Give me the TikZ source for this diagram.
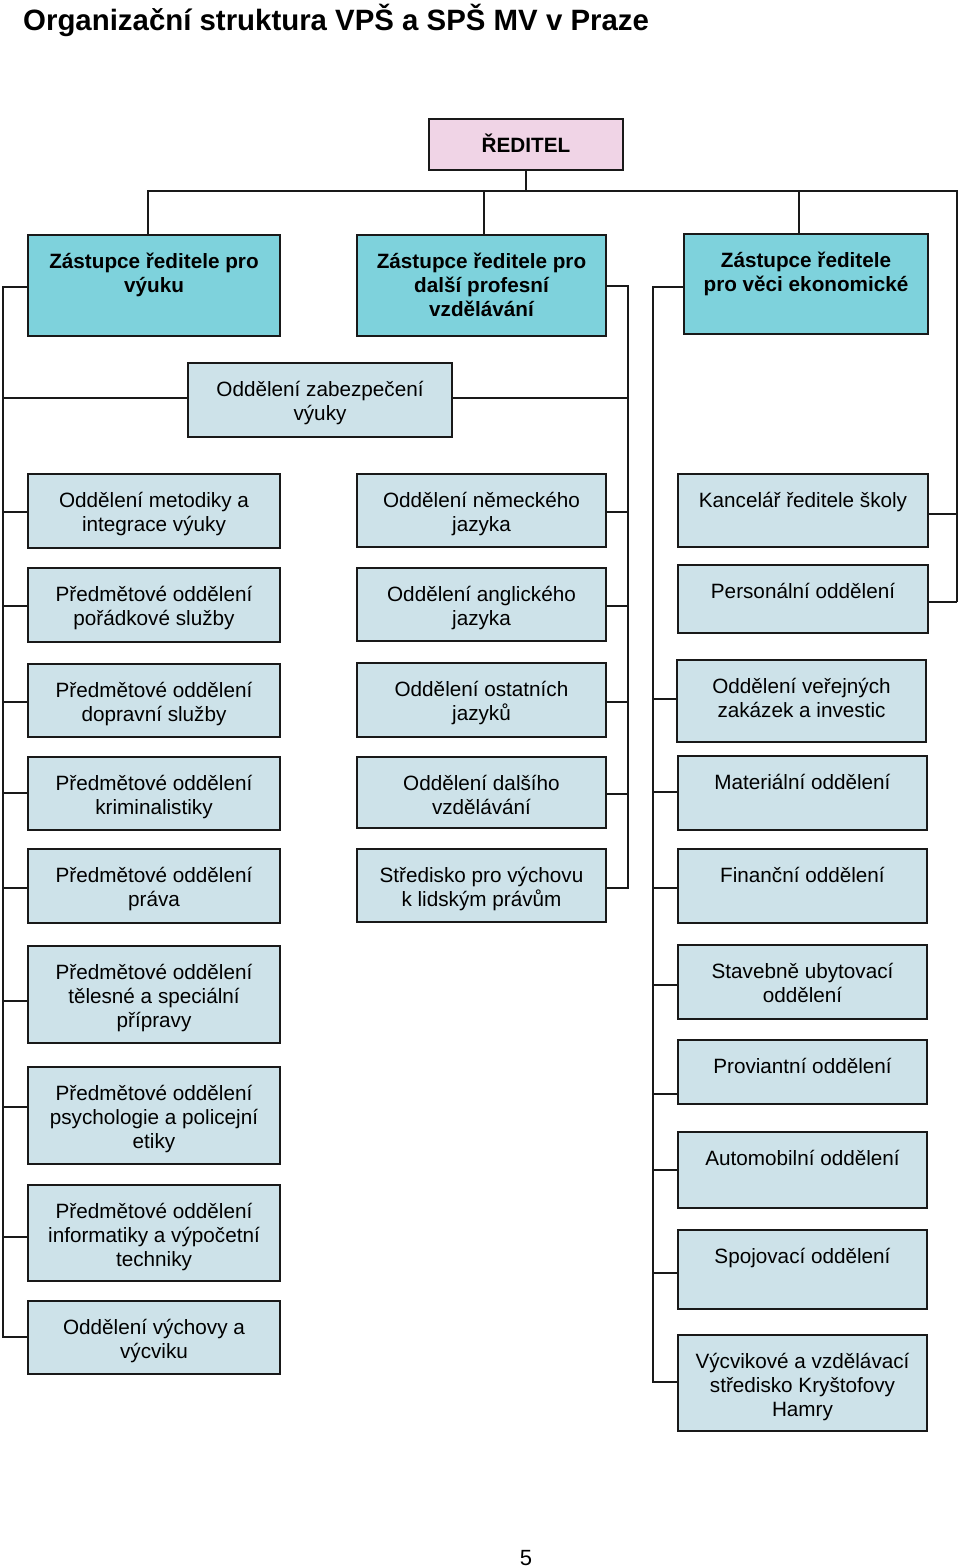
\documentclass[tikz,border=0pt]{standalone}
\usepackage{fontspec}
\setmainfont{Liberation Sans}
\definecolor{cyanbox}{RGB}{126,210,220}
\definecolor{lightbox}{RGB}{205,226,233}
\definecolor{pinkbox}{RGB}{240,212,230}
\tikzset{
  basebox/.style={draw=black!90, line width=2.2pt, inner sep=0pt},
  headbox/.style={basebox, fill=pinkbox},
  depbox/.style={basebox, fill=cyanbox},
  unitbox/.style={basebox, fill=lightbox},
  txt/.style={anchor=north, inner sep=0pt, yshift=-14pt, align=center, font=\fontsize{20.7}{24}\selectfont},
  conn/.style={draw=black!90, line width=1.5pt},
}
\newcommand\obox[7]{%
  \node[#2, minimum width={(#5)-(#3)}, minimum height={(#6)-(#4)},
        label={[txt]north:{\rule{0pt}{20pt}#7}}]
        (#1) at ({((#3)+(#5))/2},{((#4)+(#6))/2}) {};}
\begin{document}
\begin{tikzpicture}[x=1pt,y=-1pt]
\useasboundingbox (0,0) rectangle (960,1567);
\node[anchor=base west, inner sep=0pt, font=\fontsize{29.4}{34}\selectfont\bfseries] (title) at (23,30) {Organizační struktura VPŠ a SPŠ MV v Praze};
\node[anchor=base, inner sep=0pt, font=\fontsize{22}{26}\selectfont] (page) at (526,1565) {5};

% boxes
\obox{red}{headbox}{429}{119}{623}{170}{\bfseries ŘEDITEL}
\obox{z1}{depbox}{28}{235}{280}{336}{\bfseries Zástupce ředitele pro\\\bfseries výuku}
\obox{z2}{depbox}{357}{235}{606}{336}{\bfseries Zástupce ředitele pro\\\bfseries další profesní\\\bfseries vzdělávání}
\obox{z3}{depbox}{684}{234}{928}{334}{\bfseries Zástupce ředitele\\\bfseries pro věci ekonomické}
\obox{zab}{unitbox}{188}{363}{452}{437}{Oddělení zabezpečení\\výuky}

\obox{l1}{unitbox}{28}{474}{280}{548}{Oddělení metodiky a\\integrace výuky}
\obox{l2}{unitbox}{28}{568}{280}{642}{Předmětové oddělení\\pořádkové služby}
\obox{l3}{unitbox}{28}{664}{280}{737}{Předmětové oddělení\\dopravní služby}
\obox{l4}{unitbox}{28}{757}{280}{830}{Předmětové oddělení\\kriminalistiky}
\obox{l5}{unitbox}{28}{849}{280}{923}{Předmětové oddělení\\práva}
\obox{l6}{unitbox}{28}{946}{280}{1043}{Předmětové oddělení\\tělesné a speciální\\přípravy}
\obox{l7}{unitbox}{28}{1067}{280}{1164}{Předmětové oddělení\\psychologie a policejní\\etiky}
\obox{l8}{unitbox}{28}{1185}{280}{1281}{Předmětové oddělení\\informatiky a výpočetní\\techniky}
\obox{l9}{unitbox}{28}{1301}{280}{1374}{Oddělení výchovy a\\výcviku}

\obox{m1}{unitbox}{357}{474}{606}{547}{Oddělení německého\\jazyka}
\obox{m2}{unitbox}{357}{568}{606}{641}{Oddělení anglického\\jazyka}
\obox{m3}{unitbox}{357}{663}{606}{737}{Oddělení ostatních\\jazyků}
\obox{m4}{unitbox}{357}{757}{606}{828}{Oddělení dalšího\\vzdělávání}
\obox{m5}{unitbox}{357}{849}{606}{922}{Středisko pro výchovu\\k lidským právům}

\obox{r1}{unitbox}{678}{474}{928}{547}{Kancelář ředitele školy}
\obox{r2}{unitbox}{678}{565}{928}{633}{Personální oddělení}
\obox{r3}{unitbox}{677}{660}{926}{742}{Oddělení veřejných\\zakázek a investic}
\obox{r4}{unitbox}{678}{756}{927}{830}{Materiální oddělení}
\obox{r5}{unitbox}{678}{849}{927}{923}{Finanční oddělení}
\obox{r6}{unitbox}{678}{945}{927}{1019}{Stavebně ubytovací\\oddělení}
\obox{r7}{unitbox}{678}{1040}{927}{1104}{Proviantní oddělení}
\obox{r8}{unitbox}{678}{1132}{927}{1208}{Automobilní oddělení}
\obox{r9}{unitbox}{678}{1230}{927}{1309}{Spojovací oddělení}
\obox{r10}{unitbox}{678}{1335}{927}{1431}{Výcvikové a vzdělávací\\středisko Kryštofovy\\Hamry}

% junction coordinates
\coordinate (hred) at (526,191);
\coordinate (hz1) at (148,191);
\coordinate (hz2) at (484,191);
\coordinate (hz3) at (799,191);
\coordinate (hr) at (957,191);
\coordinate (jr1) at (957,514);
\coordinate (jr2) at (957,602);

\coordinate (jz1) at (3,287);
\coordinate (jzabl) at (3,398);
\coordinate (jl1) at (3,512);
\coordinate (jl2) at (3,606);
\coordinate (jl3) at (3,702);
\coordinate (jl4) at (3,793);
\coordinate (jl5) at (3,888);
\coordinate (jl6) at (3,1001);
\coordinate (jl7) at (3,1107);
\coordinate (jl8) at (3,1237);
\coordinate (jl9) at (3,1337);

\coordinate (jz2) at (628,286);
\coordinate (jzabr) at (628,398);
\coordinate (jm1) at (628,512);
\coordinate (jm2) at (628,606);
\coordinate (jm3) at (628,702);
\coordinate (jm4) at (628,794);
\coordinate (jm5) at (628,888);

\coordinate (jz3) at (653,287);
\coordinate (jr3) at (653,699);
\coordinate (jr4) at (653,792);
\coordinate (jr5) at (653,888);
\coordinate (jr6) at (653,985);
\coordinate (jr7) at (653,1094);
\coordinate (jr8) at (653,1170);
\coordinate (jr9) at (653,1273);
\coordinate (jr10) at (653,1382);

% top level
\draw[conn] (red.south) -- (hred);
\draw[conn] (hz1 |- z1.north) -- (hz1) -- (hr) -- (jr2);
\draw[conn] (hz2) -- (hz2 |- z2.north);
\draw[conn] (hz3) -- (hz3 |- z3.north);
\draw[conn] (jr1) -- (jr1 -| r1.east);
\draw[conn] (jr2) -- (jr2 -| r2.east);

% left bus
\draw[conn] (jz1 -| z1.west) -- (jz1) -- (jl9) -- (jl9 -| l9.west);
\draw[conn] (jzabl) -- (jzabl -| zab.west);
\foreach \i in {1,...,8} \draw[conn] (jl\i) -- (jl\i -| l\i.west);

% middle bus
\draw[conn] (jz2 -| z2.east) -- (jz2) -- (jm5) -- (jm5 -| m5.east);
\draw[conn] (jzabr) -- (jzabr -| zab.east);
\foreach \i in {1,...,4} \draw[conn] (jm\i) -- (jm\i -| m\i.east);

% right bus
\draw[conn] (jz3 -| z3.west) -- (jz3) -- (jr10) -- (jr10 -| r10.west);
\foreach \i in {3,...,9} \draw[conn] (jr\i) -- (jr\i -| r\i.west);
\end{tikzpicture}
\end{document}
